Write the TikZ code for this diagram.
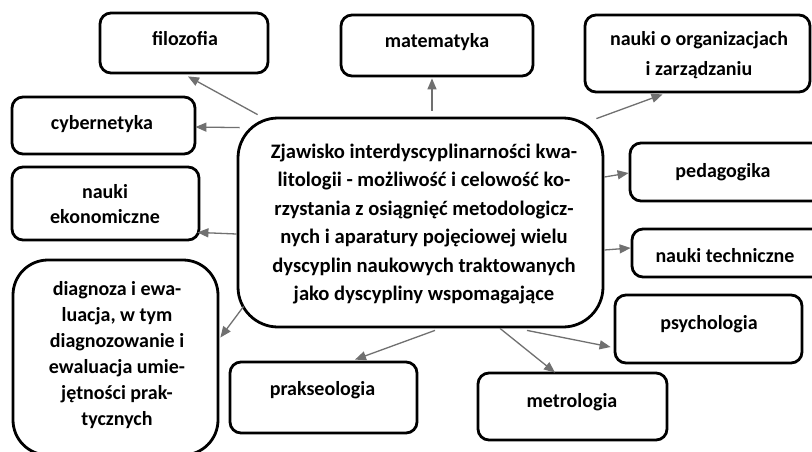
\documentclass[tikz,border=0pt]{standalone}
\usepackage{fontspec}
\setmainfont{Carlito}
\usetikzlibrary{arrows.meta}
\definecolor{arrgray}{HTML}{707070}
\begin{document}
\begin{tikzpicture}[x=1pt,y=-1pt,
  box/.style={draw=black,line width=2.8pt,rounded corners=11pt,inner sep=0pt,fill=white},
  lbl/.style={font=\fontsize{20}{24}\selectfont\bfseries,align=center,inner sep=0pt},
  word/.style={lbl,anchor=base},
  arr/.style={draw=arrgray,line width=1.3pt,-{Triangle[length=11pt,width=9pt]}}]
\useasboundingbox (0,0) rectangle (812,451);
\clip (0,0) rectangle (812,451);
\fill[white] (0,0) rectangle (812,451);

% boxes
\node[box,minimum width=168pt,minimum height=60pt] (filo) at (184,43) {};
\node[box,minimum width=192pt,minimum height=61pt] (mate) at (437,45.5) {};
\node[box,minimum width=225pt,minimum height=77pt] (org) at (697.5,53.5) {};
\node[box,minimum width=183pt,minimum height=57pt] (cyb) at (103.5,125.5) {};
\node[box,minimum width=187pt,minimum height=73pt] (eko) at (105.5,203.5) {};
\node[box,rounded corners=40pt,minimum width=365pt,minimum height=209pt] (central) at (420.5,222.5) {};
\node[box,minimum width=200pt,minimum height=58pt] (ped) at (730,172) {};
\node[box,minimum width=198pt,minimum height=48pt] (tech) at (731,253) {};
\node[box,minimum width=187pt,minimum height=68pt] (psych) at (708.5,329) {};
\node[box,minimum width=189pt,minimum height=67pt] (metro) at (572.5,406.5) {};
\node[box,minimum width=187pt,minimum height=71pt] (prak) at (323.5,397.5) {};
\node[box,rounded corners=35pt,minimum width=205pt,minimum height=195pt] (diag) at (115.5,357.5) {};

% texts
\node[word] (filoT) at (185,45) {filozofia};
\node[word] (mateT) at (437,47) {matematyka};
\node[lbl,font=\fontsize{20}{30}\selectfont\bfseries] (orgT) at (699,55) {nauki o organizacjach\\i zarządzaniu};
\node[word] (cybT) at (102,129) {cybernetyka};
\node[lbl,font=\fontsize{20}{25}\selectfont\bfseries] (ekoT) at (105,204) {nauki\\ekonomiczne};
\node[lbl,font=\fontsize{20.6}{28.4}\selectfont\bfseries] (centralT) at (424,224) {Zjawisko interdyscyplinarności kwa-\\litologii - możliwość i celowość ko-\\rzystania z osiągnięć metodologicz-\\nych i aparatury pojęciowej wielu\\dyscyplin naukowych traktowanych\\jako dyscypliny wspomagające};
\node[word] (pedT) at (723,177) {pedagogika};
\node[word] (techT) at (725,262) {nauki techniczne};
\node[word] (psychT) at (709,329) {psychologia};
\node[word] (metroT) at (572,407) {metrologia};
\node[word] (prakT) at (322.5,395) {prakseologia};
\node[lbl,font=\fontsize{20}{26}\selectfont\bfseries] (diagT) at (117,355) {diagnoza i ewa-\\luacja, w tym\\diagnozowanie i\\ewaluacja umie-\\jętności prak-\\tycznych};

% connectors
\draw[arr] ([xshift=21pt,yshift=2pt]central.north west) -- ([xshift=4pt,yshift=-2pt]filo.south);
\draw[arr] ([xshift=3pt,yshift=-11pt]central.north west) -- ([xshift=-1pt,yshift=-1.5pt]cyb.east);
\draw[arr] ([yshift=-11.5pt]central.west) -- ([xshift=-3pt,yshift=9pt]eko.south east);
\draw[arr] ([xshift=11.5pt,yshift=6pt]central.north) -- ([xshift=-5pt,yshift=-1pt]mate.south);
\draw[arr] ([xshift=-8pt,yshift=-2pt]central.north east) -- ([xshift=-35pt,yshift=-1pt]org.south);
\draw[arr] ([yshift=45.5pt]central.east) -- ([yshift=-1pt]ped.west);
\draw[arr] ([yshift=-27.5pt]central.east) -- ([yshift=5pt]tech.west);
\draw[arr] ([xshift=106.5pt,yshift=-2pt]central.south) -- ([xshift=-3pt,yshift=-18pt]psych.west);
\draw[arr] ([xshift=79.5pt]central.south) -- ([xshift=-17.5pt,yshift=-1pt]metro.north);
\draw[arr] ([xshift=14.5pt,yshift=-2pt]central.south) -- ([xshift=31.5pt,yshift=1pt]prak.north);
\draw[arr] ([xshift=7pt,yshift=22pt]central.south west) -- ([xshift=1pt,yshift=20pt]diag.east);
\end{tikzpicture}
\end{document}
